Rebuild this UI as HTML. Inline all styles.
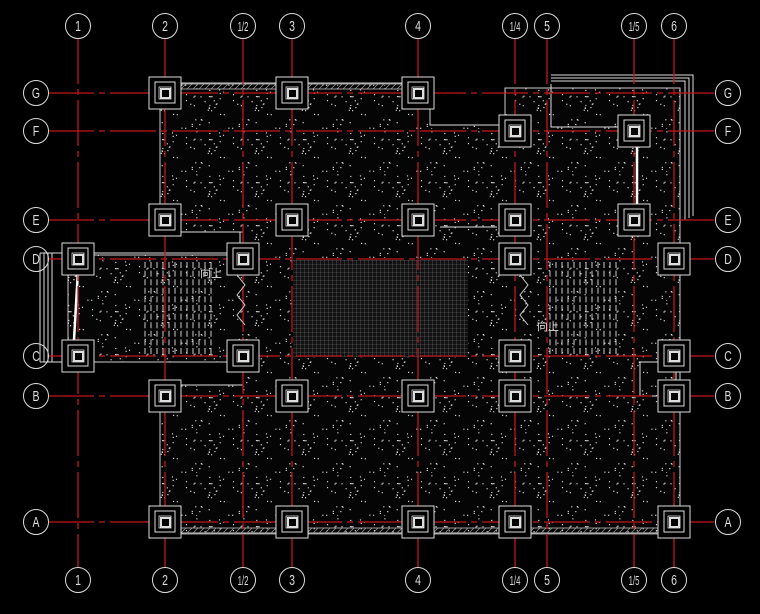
<!DOCTYPE html>
<html><head><meta charset="utf-8"><style>
html,body{margin:0;padding:0;background:#000;width:760px;height:614px;overflow:hidden}
svg{display:block}
text{font-family:"Liberation Sans","Noto Sans CJK SC",sans-serif;fill:#ddd}
</style></head><body>
<svg id="s" width="760" height="614" viewBox="0 0 760 614" xmlns="http://www.w3.org/2000/svg">
<defs>
<pattern id="sp" width="47" height="43" patternUnits="userSpaceOnUse">
<rect width="47" height="43" fill="#050505"/>
<g id="dots" fill="#cfcfcf"></g>
</pattern>
<pattern id="mesh" width="4" height="4" patternUnits="userSpaceOnUse">
<rect width="4" height="4" fill="#111"/>
<path d="M0 0H4M0 0V4" stroke="#777" stroke-width="0.6"/>
</pattern>
<pattern id="hatch" width="6" height="6" patternUnits="userSpaceOnUse">
<path d="M0 6L6 0" stroke="#999" stroke-width="0.7"/>
</pattern>
</defs>
<polygon points="160,83 430,83 430,125 505,125 505,88 680,88 680,533 160,533 160,385 243,385 243,362 68,362 68,255 243,255 243,232 160,232" fill="url(#sp)" stroke="#ccc" stroke-width="1"/>
<rect x="293" y="260" width="175" height="97" fill="url(#mesh)"/>
<rect x="181" y="84" width="230" height="5" fill="url(#hatch)" stroke="#bbb" stroke-width="0.8"/>
<rect x="181" y="528" width="480" height="6" fill="url(#hatch)" stroke="#bbb" stroke-width="0.8"/>
<g fill="none" stroke="#ddd" stroke-width="1">
<path d="M551,75H693V216"/><path d="M551,78H689V218"/><path d="M551,81H685V220"/><path d="M551,84V127H630"/>
<path d="M40,253V362M44,253V362M48,253V362M52,253V362M40,253H243M40,362H68"/>
<path d="M160,232H240V260"/><path d="M243,360V385H160"/>
<path d="M640,362H676V396H640Z"/>
<path d="M430,125H505"/>
<path d="M440,227H497"/>
</g>
<path d="M637,132V214M78,270L74,340" stroke="#fff" stroke-width="2.5"/>
<g id="grid" stroke="#c0161e" stroke-width="1.3" stroke-dasharray="46 5 6 5" fill="none"></g>
<g id="cols" fill="none" stroke="#ddd"></g>
<g id="st" stroke="#ccc" stroke-width="1"></g>
<g id="lab"></g>
<text x="200" y="277" font-size="11">向上</text>
<text x="537" y="330" font-size="11">向上</text>
</svg>
<script>
var NS="http://www.w3.org/2000/svg";
function el(p,t,a,txt){var e=document.createElementNS(NS,t);for(var k in a)e.setAttribute(k,a[k]);if(txt)e.textContent=txt;document.getElementById(p).appendChild(e);return e;}
var seed=7;function r(){seed=(seed*9301+49297)%233280;return seed/233280;}
for(var i=0;i<38;i++){el('dots','rect',{x:(r()*47).toFixed(1),y:(r()*43).toFixed(1),width:1.2,height:1.2});}
var X={"1":78,"2":165,"1/2":243,"3":292,"4":418,"1/4":515,"5":547,"1/5":634,"6":674};
var Y={"G":93,"F":131,"E":220,"D":259,"C":356,"B":396,"A":522};
function lbl(cx,cy,k){el('lab','circle',{cx:cx,cy:cy,r:12.5,fill:'none',stroke:'#ddd','stroke-width':1});
 var t=el('lab','text',{x:0,y:0,'font-size':k.length>1?13:15,'text-anchor':'middle',transform:'translate('+cx+','+(cy+5)+') scale('+(k.length>1?0.6:0.7)+',1)'},k);}
for(var k in X){var x=X[k];el('grid','line',{x1:x,y1:38,x2:x,y2:568});lbl(x,26,k);lbl(x,580,k);}
for(var k in Y){var y=Y[k];el('grid','line',{x1:48,y1:y,x2:716,y2:y});lbl(36,y,k);lbl(728,y,k);}
var C={"G":["2","3","4"],"F":["1/4","1/5"],"E":["2","3","4","1/4","1/5"],"D":["1","1/2","1/4","6"],"C":["1","1/2","1/4","6"],"B":["2","3","4","1/4","6"],"A":["2","3","4","1/4","6"]};
for(var k in C){C[k].forEach(function(c){var x=X[c],y=Y[k];
 el('cols','rect',{x:x-16,y:y-16,width:32,height:32,'stroke-width':1,fill:'#000'});
 el('cols','rect',{x:x-10,y:y-11,width:20,height:21,'stroke-width':1});
 el('cols','rect',{x:x-6,y:y-6,width:12,height:12,'stroke-width':0.8});
 el('cols','rect',{x:x-4,y:y-4,width:9,height:9,'stroke-width':2});});}
function stairs(x0,y0,nx,ny,dx,dy,h){for(var j=0;j<ny;j++)for(var i=0;i<nx;i++){var x=x0+i*dx,y=y0+j*dy;el('st','line',{x1:x,y1:y,x2:x,y2:y+h});}}
stairs(145,262,12,11,6,8.6,6);
stairs(550,262,12,11,6,8.6,6);
[[237,275],[520,275]].forEach(function(p){el('st','polyline',{points:p[0]+','+p[1]+' '+(p[0]+8)+','+(p[1]+10)+' '+p[0]+','+(p[1]+20)+' '+(p[0]+8)+','+(p[1]+30)+' '+p[0]+','+(p[1]+40)+' '+(p[0]+8)+','+(p[1]+50),fill:'none'});});
</script>
</body></html>
